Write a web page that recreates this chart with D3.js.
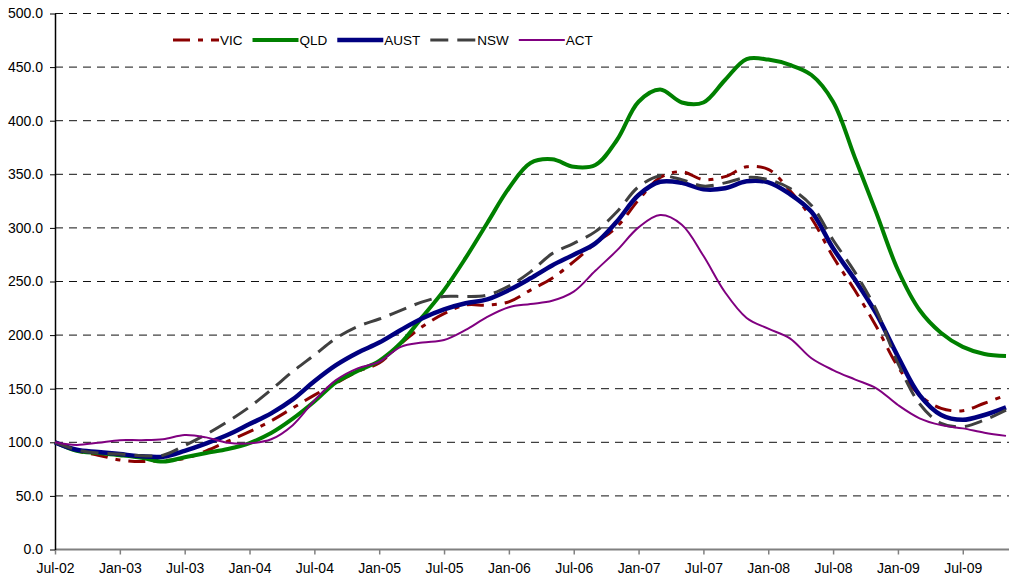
<!DOCTYPE html>
<html>
<head>
<meta charset="utf-8">
<script src="https://cdn.jsdelivr.net/npm/d3@7"></script>
<style>
    body { margin: 0; background: #fff; }
    svg { display: block; font-family: 'Liberation Sans', Arial, sans-serif; }
</style>
</head>
<body>
<svg id="chart"></svg>
<script>
const width = 1009;
const height = 581;

// bimonthly readings, Jul-02 .. Nov-09 (index = Jul-02 = 100)
const periods = ['Jul-02', 'Sep-02', 'Nov-02', 'Jan-03', 'Mar-03', 'May-03', 'Jul-03', 'Sep-03', 'Nov-03',
    'Jan-04', 'Mar-04', 'May-04', 'Jul-04', 'Sep-04', 'Nov-04', 'Jan-05', 'Mar-05', 'May-05', 'Jul-05',
    'Sep-05', 'Nov-05', 'Jan-06', 'Mar-06', 'May-06', 'Jul-06', 'Sep-06', 'Nov-06', 'Jan-07', 'Mar-07',
    'May-07', 'Jul-07', 'Sep-07', 'Nov-07', 'Jan-08', 'Mar-08', 'May-08', 'Jul-08', 'Sep-08', 'Nov-08',
    'Jan-09', 'Mar-09', 'May-09', 'Jul-09', 'Sep-09', 'Nov-09'];

const vic = [100, 92, 88, 83.5, 82, 83, 85, 92, 101, 110, 120, 132, 144, 155, 166, 174, 192, 208, 220, 228, 228,
    231, 242, 253, 268.5, 285.6, 301, 326, 347, 352.4, 345, 347.8, 357, 354.6, 335, 309, 273, 242, 208, 170.5,
    144, 131.7, 129.5, 136.4, 144];
const qld = [100, 92, 90, 88, 85.6, 82, 86, 90, 93.7, 99.3, 108.6, 122, 138, 156, 166.5, 176, 192.6, 217, 242,
    272, 304.6, 337, 360.5, 364, 357, 358.7, 382, 417.7, 429, 417, 417, 438, 457.5, 457, 452, 442.6, 417.7, 366,
    314, 260.7, 223.4, 202, 189, 182.4, 180.5];
const aust = [100, 93, 91, 89, 87, 86.6, 92, 99, 107, 117, 127, 140, 157, 172, 183.6, 193, 204.8, 215.7, 224,
    229.7, 233.4, 242, 253, 265, 275, 285.6, 306, 330.7, 343, 342, 336, 337, 343.5, 342.5, 331.6, 315, 281, 252,
    220, 180, 144, 125.5, 121, 125.5, 132.6];
const nsw = [100, 93, 90, 89, 87.5, 88, 97, 107.5, 119.5, 133, 149, 166, 181.4, 197, 208, 215, 223, 231, 236,
    236, 237.4, 245.8, 259, 276, 285.6, 296.5, 315, 338.4, 348.4, 345, 339, 342, 347, 345, 337, 321, 288.7, 259,
    223.4, 173.7, 136, 117.7, 114.6, 120.8, 130];
const act = [100, 97.5, 99.6, 102, 102, 102.8, 106.8, 104.6, 99.6, 99, 102.8, 116, 139, 158, 169, 175, 189, 193,
    195.4, 204.8, 217, 226, 229, 232, 240.5, 260, 279, 300.5, 312, 303, 274, 240, 216, 206, 197, 178.4, 167.4,
    158.7, 150.4, 134.8, 122.4, 116, 113, 109, 106];

const yTicks = [0, 50, 100, 150, 200, 250, 300, 350, 400, 450, 500];

const series = [
    { name: 'VIC', values: vic, color: '#8b0000', width: 3, dash: '17,8,5,8' },
    { name: 'QLD', values: qld, color: '#008000', width: 4, dash: null },
    { name: 'AUST', values: aust, color: '#000080', width: 4.5, dash: null },
    { name: 'NSW', values: nsw, color: '#404040', width: 3, dash: '18,9' },
    { name: 'ACT', values: act, color: '#800080', width: 2, dash: null }
];

const svg = d3.select('#chart')
    .attr('width', width)
    .attr('height', height);

const x = d3.scalePoint()
    .domain(periods)
    .range([55, 1006]);

const y = d3.scaleLinear()
    .domain([0, 500])
    .range([549.5, 13.5]);

// gridlines
svg.append('g')
    .selectAll('line')
    .data(yTicks.filter(d => d > 0))
    .enter().append('line')
    .attr('x1', 55)
    .attr('x2', width)
    .attr('y1', d => y(d))
    .attr('y2', d => y(d))
    .style('stroke', '#111')
    .style('stroke-width', 1)
    .style('stroke-dasharray', '8,6');

// x axis
const xAxis = svg.append('g')
    .attr('transform', `translate(0, ${y(0)})`)
    .call(d3.axisBottom(x)
        .tickValues(periods.filter(p => p.startsWith('Jan') || p.startsWith('Jul')))
        .tickSize(5)
        .tickPadding(9));
xAxis.select('.domain').attr('d', `M55,0H${width}`).style('stroke', '#808080').style('stroke-width', 2);
xAxis.selectAll('.tick line').style('stroke', '#808080').style('stroke-width', 1.5);
xAxis.selectAll('.tick text').style('font-size', '14px').style('fill', '#000')
    .style('font-family', "'Liberation Sans', Arial, sans-serif");

// y axis
const yAxis = svg.append('g')
    .attr('transform', 'translate(55, 0)')
    .call(d3.axisLeft(y)
        .tickValues(yTicks)
        .tickFormat(d3.format('.1f'))
        .tickSize(5)
        .tickSizeOuter(0)
        .tickPadding(7));
yAxis.select('.domain').style('stroke', '#000').style('stroke-width', 1.5);
yAxis.selectAll('.tick line').style('stroke', '#000');
yAxis.selectAll('.tick text').style('font-size', '14px').style('fill', '#000')
    .style('font-family', "'Liberation Sans', Arial, sans-serif");

// lines
const line = d3.line()
    .x((d, i) => x(periods[i]))
    .y(d => y(d))
    .curve(d3.curveCatmullRom.alpha(0.5));

svg.append('g')
    .selectAll('path')
    .data(series)
    .enter().append('path')
    .attr('d', d => line(d.values))
    .style('fill', 'none')
    .style('stroke', d => d.color)
    .style('stroke-width', d => d.width)
    .style('stroke-dasharray', d => d.dash)
    .style('stroke-linejoin', 'round');

// legend
const legend = svg.append('g');
let lx = 173;
series.forEach(s => {
    legend.append('line')
        .attr('x1', lx)
        .attr('x2', lx + 46)
        .attr('y1', 40)
        .attr('y2', 40)
        .style('stroke', s.color)
        .style('stroke-width', s.width)
        .style('stroke-dasharray', s.dash);
    const t = legend.append('text')
        .attr('x', lx + 47)
        .attr('y', 40)
        .attr('dy', '0.35em')
        .style('font-size', '13.5px')
        .text(s.name);
    lx += 47 + t.node().getComputedTextLength() + 10;
});
</script>
</body>
</html>
